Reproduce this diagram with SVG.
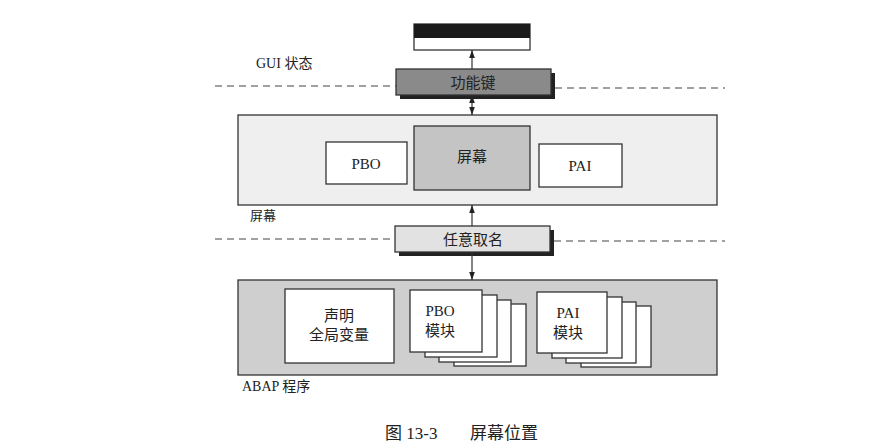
<svg xmlns="http://www.w3.org/2000/svg" width="893" height="444" viewBox="0 0 893 444">
<style>
text{font-family:"Liberation Serif","Noto Sans CJK SC",serif;fill:#222}
.b{stroke:#333;stroke-width:1.3}
.d{stroke:#444;stroke-width:1.2;stroke-dasharray:7 5;fill:none}
.c{stroke:#333;stroke-width:1.2;fill:none}
</style>
<defs><marker id="a" viewBox="0 0 10 10" refX="10" refY="5" markerWidth="7" markerHeight="7" orient="auto-start-reverse"><path d="M0,1.5L10,5L0,8.5z" fill="#222"/></marker></defs>
<rect width="893" height="444" fill="#fff"/>
<line class="d" x1="215" y1="86" x2="396" y2="86"/><line class="d" x1="555" y1="88" x2="725" y2="88"/>
<line class="d" x1="215" y1="239" x2="395" y2="239"/><line class="d" x1="554" y1="241" x2="725" y2="241"/>
<g id="display"><rect x="414" y="24" width="116" height="26" fill="#fff" class="b"/><rect x="414" y="24" width="116" height="14" fill="#1a1a1a"/></g>
<text x="256" y="68" font-size="14">GUI 状态</text>
<g id="fkey"><rect x="400" y="73" width="155" height="26" fill="#222"/><rect x="396" y="69" width="155" height="26" fill="#8a8a8a" class="b"/><text x="473" y="88" font-size="15" text-anchor="middle">功能键</text></g>
<g id="screen"><rect x="238" y="115" width="479" height="90" fill="#efefef" class="b"/>
<rect x="326" y="142" width="81" height="42" fill="#fff" class="b"/><text x="366" y="169" font-size="15" text-anchor="middle">PBO</text>
<rect x="414" y="126" width="116" height="64" fill="#c4c4c4" class="b"/><text x="472" y="162" font-size="15" text-anchor="middle">屏幕</text>
<rect x="539" y="144" width="83" height="43" fill="#fff" class="b"/><text x="580" y="171" font-size="15" text-anchor="middle">PAI</text></g>
<text x="250" y="220" font-size="13">屏幕</text>
<g id="name"><rect x="399" y="230" width="155" height="26" fill="#222"/><rect x="395" y="226" width="155" height="26" fill="#e2e2e2" class="b"/><text x="473" y="245" font-size="15" text-anchor="middle">任意取名</text></g>
<g id="abap"><rect x="238" y="280" width="479" height="95" fill="#cfcfcf" class="b"/>
<rect x="285" y="289" width="109" height="74" fill="#fff" class="b"/><text x="339" y="321" font-size="15" text-anchor="middle">声明</text><text x="339" y="340" font-size="15" text-anchor="middle">全局变量</text>
<rect x="454" y="304" width="72" height="62" fill="#fff" class="b"/><rect x="439" y="300" width="72" height="62" fill="#fff" class="b"/><rect x="425" y="295" width="72" height="62" fill="#fff" class="b"/><rect x="410" y="290" width="72" height="62" fill="#fff" class="b"/>
<text x="440" y="316" font-size="15" text-anchor="middle">PBO</text><text x="440" y="336" font-size="15" text-anchor="middle">模块</text>
<rect x="581" y="306" width="70" height="61" fill="#fff" class="b"/><rect x="566" y="302" width="70" height="61" fill="#fff" class="b"/><rect x="552" y="297" width="70" height="61" fill="#fff" class="b"/><rect x="537" y="292" width="70" height="61" fill="#fff" class="b"/>
<text x="568" y="318" font-size="15" text-anchor="middle">PAI</text><text x="568" y="338" font-size="15" text-anchor="middle">模块</text></g>
<text x="242" y="391" font-size="14">ABAP 程序</text>
<g id="connectors">
<line class="c" x1="472" y1="69" x2="472" y2="50" marker-end="url(#a)"/>
<line class="c" x1="472" y1="95" x2="472" y2="115" marker-start="url(#a)" marker-end="url(#a)"/>
<line class="c" x1="472" y1="226" x2="472" y2="205" marker-end="url(#a)"/>
<line class="c" x1="472" y1="252" x2="472" y2="280" marker-end="url(#a)"/>
</g>
<text x="385" y="439" font-size="17">图 13-3<tspan x="470">屏幕位置</tspan></text>
</svg>
